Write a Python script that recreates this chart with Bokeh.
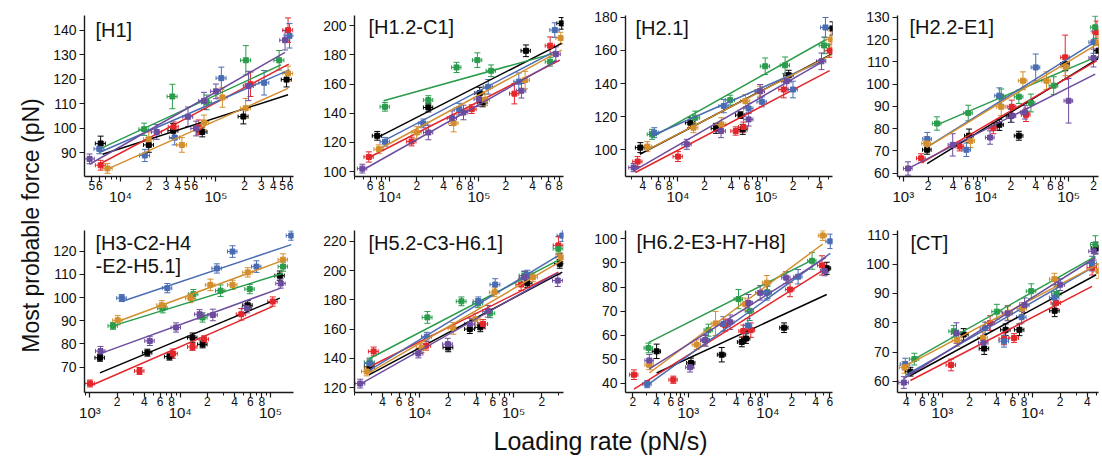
import math
from bokeh.plotting import figure
from bokeh.models import (ColumnDataSource, Whisker, TeeHead, FixedTicker, LogAxis,
                          LinearAxis, Range1d, Label)
from bokeh.layouts import row, column
from bokeh.embed import file_html
from bokeh.resources import INLINE
from bokeh.core.properties import value

FONT = "Liberation Sans"
SERIES = ["black", "red", "green", "blue", "orange", "purple"]
COLORS = {"black": "#000000", "red": "#e3262b", "green": "#2a9c4c",
          "blue": "#4a6cb3", "orange": "#d38f2e", "purple": "#6c4c9e"}

PANEL_TITLES = [["[H1]"], ["[H1.2-C1]"], ["[H2.1]"], ["[H2.2-E1]"],
                ["[H3-C2-H4", "-E2-H5.1]"], ["[H5.2-C3-H6.1]"], ["[H6.2-E3-H7-H8]"], ["[CT]"]]
Y_LABEL = "Most probable force (pN)"
X_LABEL = "Loading rate (pN/s)"

# ---------------- data: loading rate (pN/s), force (pN), force error, fit ends -------------
h1_rate = {"black": [6.2e3, 1.98e4, 3.57e4, 7.2e4, 1.94e5, 5.5e5],
           "red": [6.2e3, 3.6e4, 6.6e4, 2.3e5, 5.7e5],
           "green": [1.77e4, 3.5e4, 8e4, 2.06e5, 4.6e5],
           "blue": [6e3, 1.8e4, 3.7e4, 1.14e5, 3.2e5, 5.9e5],
           "orange": [7.3e3, 1.98e4, 4.4e4, 7.5e4, 1.17e5, 2.05e5, 5.7e5],
           "purple": [4.75e3, 2.4e4, 5.1e4, 6.2e4, 7.5e4, 1e5, 2.2e5, 5.3e5]}
h1_force = {"black": [93.7, 93.1, 98.9, 98.4, 104.7, 119.8],
            "red": [84.8, 100.5, 100.3, 117.9, 140],
            "green": [99.5, 112.9, 110.5, 127.7, 127.7],
            "blue": [91.5, 88.8, 96.1, 120.4, 118.5, 137.7],
            "orange": [83.5, 95.4, 93.1, 102.3, 112.5, 108.1, 122.3],
            "purple": [87.4, 98.4, 104.6, 99.8, 111.1, 115, 117.2, 135.9]}
h1_err = {"black": [3, 3, 3, 2, 3, 3], "red": [2, 2, 3, 5, 5], "green": [2.5, 5, 3, 6, 4],
          "blue": [2, 2.5, 3, 4.5, 5, 5], "orange": [2, 3, 3, 3, 4, 4, 3],
          "purple": [2, 3, 4, 3, 3.5, 3, 6, 4]}
h1_fit = {"black": [6.5e3, 89.3, 5.7e5, 113.6], "red": [6e3, 85.2, 5.8e5, 126.1],
          "green": [6e3, 91.4, 4.8e5, 125.8], "blue": [6e3, 90, 5.9e5, 123.8],
          "orange": [7.3e3, 83.2, 5.7e5, 116.2], "purple": [4.75e3, 85.2, 5.3e5, 130.9]}

h12_rate = {"black": [7.2e3, 2.7e4, 1.02e5, 1.1e5, 3.37e5, 8.5e5],
            "red": [5.8e3, 1.75e4, 8.3e4, 2.5e5, 6.3e5],
            "green": [8.8e3, 2.7e4, 5.6e4, 9.6e4, 1.37e5, 6.3e5],
            "blue": [8.8e3, 2.37e4, 6e4, 1.27e5, 2.8e5, 7.1e5],
            "orange": [7.5e3, 2e4, 5.2e4, 1.17e5, 3.3e5, 8.3e5],
            "purple": [4.9e3, 2.7e4, 5e4, 6.7e4, 1e5, 3e5, 7.3e5]}
h12_force = {"black": [124.5, 143.9, 153.8, 147.4, 182.8, 201.6],
             "red": [110, 120.6, 142.8, 153.4, 186.3],
             "green": [144.4, 149, 171.4, 176.4, 169.1, 175.3],
             "blue": [120.4, 133, 142.8, 158.1, 161.6, 197],
             "orange": [115.3, 126.8, 133.2, 149.2, 162.7, 191.5],
             "purple": [102, 126.8, 136.6, 140.5, 149.7, 155.4, 180.5]}
h12_err = {"black": [3, 3, 4, 3, 4, 4], "red": [3.5, 3, 3, 7, 6], "green": [3, 3, 3.5, 5, 4, 3],
           "blue": [3, 3, 4, 5, 6, 5], "orange": [3, 4, 6, 4, 6, 4],
           "purple": [3, 5, 5, 5, 5, 5, 5]}
h12_fit = {"black": [7.2e3, 123.3, 8.5e5, 187.9], "red": [5.8e3, 109.6, 8.1e5, 176.4],
           "green": [8.5e3, 148.5, 6.5e5, 180.5], "blue": [8.8e3, 121.5, 7.3e5, 182.8],
           "orange": [7.2e3, 114.6, 8.5e5, 183.3], "purple": [4.9e3, 100.9, 7.5e5, 176]}

h21_rate = {"black": [3.75e3, 1.38e4, 2.7e4, 5.1e4, 5.4e4, 1.79e5, 5.6e5],
            "red": [3.5e3, 1e4, 4.5e4, 5.5e4, 1.57e5, 5.2e5],
            "green": [5.1e3, 1.57e4, 3.9e4, 9.7e4, 1.63e5, 4.5e5],
            "blue": [5.4e3, 3.3e4, 6.3e4, 8.9e4, 2e5, 4.66e5],
            "orange": [4.5e3, 1.5e4, 3.1e4, 5.8e4, 8.5e4, 5.4e5],
            "purple": [3.15e3, 1.26e4, 3.07e4, 6.3e4, 8.5e4, 1.7e5, 4.2e5]}
h21_force = {"black": [101.4, 116.4, 113, 121, 112.4, 145, 173.2],
             "red": [93, 96, 111.4, 113.8, 136.4, 159.8],
             "green": [109.4, 119.4, 130, 150.4, 151, 163],
             "blue": [110.4, 126.4, 125, 129, 136.4, 173.8],
             "orange": [102, 113.4, 115.4, 129.4, 135.4, 166.6],
             "purple": [89.4, 103.4, 111.4, 118.4, 135.4, 141.4, 153.4]}
h21_err = {"black": [3, 3, 3, 2, 3, 3, 4], "red": [3, 3, 2.5, 3, 5, 4], "green": [3, 4, 3, 5, 5, 5],
           "blue": [3, 4, 3, 3, 5, 6], "orange": [3, 3, 4, 4, 3, 5],
           "purple": [2.5, 3, 4, 4, 4, 5, 5]}
h21_fit = {"black": [3.7e3, 97.4, 5.6e5, 158], "red": [3.3e3, 86.4, 5.2e5, 147.8],
           "green": [5e3, 107.4, 4.7e5, 166.4], "blue": [5e3, 108.4, 4.7e5, 154.4],
           "orange": [4.3e3, 99.4, 5.5e5, 157.4], "purple": [3.15e3, 87.4, 4.4e5, 153.4]}

h22_rate = {"black": [1.94e3, 6.25e3, 1.45e4, 2e4, 2.5e4, 9.1e4, 2.3e5],
            "red": [1.64e3, 4.8e3, 1.23e4, 2.05e4, 3.05e4, 9.1e4, 2.2e5],
            "green": [2.55e3, 6.1e3, 1.53e4, 2.5e4, 3.5e4, 6.6e4, 2.1e5],
            "blue": [1.95e3, 5.8e3, 1.45e4, 4e4, 2e5],
            "orange": [1.9e3, 6.5e3, 1.53e4, 2.8e4, 5.4e4, 9.2e4, 2.3e5],
            "purple": [1.14e3, 3.96e3, 1.12e4, 2.05e4, 2.97e4, 1e5, 2e5]}
h22_force = {"black": [70.5, 76.8, 81.7, 85.8, 76.8, 109, 115],
             "red": [66.7, 72, 80.2, 89.8, 86.2, 112, 123.3],
             "green": [82.3, 87, 94.3, 94.3, 91.5, 99.3, 125.5],
             "blue": [75.3, 70.5, 94.8, 107.5, 118.8],
             "orange": [73.3, 74.5, 89.8, 101.5, 101.5, 107.8, 118.5],
             "purple": [62.1, 72.7, 76, 85.8, 87.3, 92.5, 111.7]}
h22_err = {"black": [2, 3, 2.5, 3, 2, 3, 3], "red": [2, 2, 2.5, 3, 3, 10, 5],
           "green": [3, 3.5, 3.5, 3, 4, 4, 5], "blue": [3, 3, 3.5, 6, 5],
           "orange": [3, 3, 4, 4, 4, 4, 4], "purple": [3, 5, 3, 3, 3, 10, 4]}
h22_fit = {"black": [1.94e3, 64.3, 2.3e5, 111.5], "red": [1.7e3, 64.8, 2.2e5, 110.5],
           "green": [2.55e3, 81.7, 2.1e5, 112], "blue": [1.95e3, 71.8, 2.2e5, 119.5],
           "orange": [1.9e3, 71.5, 2.3e5, 118.3], "purple": [1.1e3, 61.8, 2.1e5, 104.5]}

h3_rate = {"black": [1.29e3, 4.33e3, 7.6e3, 1.37e4, 1.77e4, 5.6e4, 1.27e5],
           "red": [1e3, 3.54e3, 8.3e3, 1.37e4, 1.84e4, 4.75e4, 1.06e5],
           "green": [1.8e3, 6.4e3, 1.4e4, 1.77e4, 2.8e4, 5.9e4, 1.38e5],
           "blue": [2.25e3, 7.2e3, 2.55e4, 3.8e4, 7e4, 1.7e5],
           "orange": [2.03e3, 6.25e3, 1.3e4, 2.16e4, 3.8e4, 5.6e4, 1.38e5],
           "purple": [1.31e3, 4.6e3, 9e3, 1.64e4, 2.3e4, 5.5e4, 1.3e5]}
h3_force = {"black": [74, 76.2, 74.5, 82.7, 79.8, 96.7, 109.5],
            "red": [62.9, 68.3, 75.8, 78.7, 82, 92.8, 98.3],
            "green": [87.8, 95.4, 101.5, 91.4, 103, 103.7, 113.4],
            "blue": [99.8, 104.1, 112.6, 119.9, 113.4, 126.8],
            "orange": [90.2, 96.7, 99.8, 105.5, 105.5, 110.9, 116.4],
            "purple": [76.9, 81.3, 87.1, 92.8, 92.5, 95.4, 106.1]}
h3_err = {"black": [1.5, 1.5, 1.5, 2, 1.5, 2, 2], "red": [1.5, 1.5, 2, 1.5, 1.5, 2.5, 2],
          "green": [1.5, 2, 2, 2, 2.5, 2, 2], "blue": [1.5, 2, 2, 2.5, 2.5, 2],
          "orange": [2, 2, 2, 2.5, 2, 2, 2.5], "purple": [2, 2, 2, 2, 2.5, 2, 2]}
h3_fit = {"black": [1.29e3, 67.5, 1.27e5, 99.8], "red": [1e3, 61.8, 1.06e5, 96.2],
          "green": [1.8e3, 87.8, 1.38e5, 110.5], "blue": [2.25e3, 98.3, 1.7e5, 122.9],
          "orange": [2.03e3, 89.7, 1.4e5, 116.2], "purple": [1.3e3, 75.8, 1.3e5, 104.1]}

h5_rate = {"black": [2.9e3, 2e4, 3.4e4, 4.4e4, 1.4e5, 3.1e5],
           "red": [3.2e3, 1.16e4, 4.7e4, 1.2e5, 3e5],
           "green": [2.9e3, 1.2e4, 2.77e4, 4.15e4, 5.6e4, 1.3e5, 3e5],
           "blue": [2.9e3, 1.18e4, 4.2e4, 6.35e4, 1.4e5, 3.3e5],
           "orange": [2.7e3, 1.04e4, 2.27e4, 3.9e4, 6.25e4, 1.6e5, 3.2e5],
           "purple": [2.3e3, 9.6e3, 1.98e4, 3.4e4, 5.3e4, 1.3e5, 2.95e5]}
h5_force = {"black": [134.2, 147.5, 160, 161.2, 191.4, 204.7],
            "red": [144.7, 148.6, 163.5, 190.5, 217.3],
            "green": [137.2, 168, 179, 177.7, 170.8, 196.7, 215],
            "blue": [136.5, 154.8, 179, 190.5, 197.3, 224],
            "orange": [131, 147, 160.5, 166.9, 185.2, 195.5, 209.2],
            "purple": [122.7, 143.3, 149.7, 163.5, 172.2, 195.5, 193.2]}
h5_err = {"black": [3, 3, 3, 3, 3, 3], "red": [3, 3, 3, 4, 6], "green": [3, 4, 3, 3, 3, 3, 3],
          "blue": [3, 3, 3, 4, 3, 4], "orange": [3, 3, 4, 4, 3, 3, 3],
          "purple": [3, 3, 4, 4, 4, 4, 4]}
h5_fit = {"black": [2.85e3, 128.7, 3.3e5, 199], "red": [2.9e3, 134.2, 3e5, 198.9],
          "green": [2.9e3, 139.9, 3.3e5, 208.6], "blue": [2.9e3, 131.9, 3.3e5, 212],
          "orange": [2.7e3, 129.2, 3.3e5, 207], "purple": [2.3e3, 122.3, 2.95e5, 198.5]}

h6_rate = {"black": [399, 1.08e3, 2.63e3, 4.7e3, 5.3e3, 1.6e4, 5.5e4],
           "red": [207, 647, 2.9e3, 4.9e3, 6.1e3, 1.9e4, 4.8e4],
           "green": [315, 1.79e3, 4.27e3, 5.9e3, 9.9e3, 3.6e4],
           "blue": [304, 1.65e3, 2.76e3, 5.6e3, 9.7e3, 2.4e4, 6.1e4],
           "orange": [323, 1.27e3, 2.2e3, 5.2e3, 9.7e3, 4.9e4],
           "purple": [323, 1.05e3, 1.62e3, 3.35e3, 5.7e3, 8e3, 1.7e4, 5.2e4]}
h6_force = {"black": [53.3, 48.5, 51.9, 57.2, 58.6, 63.1, 87.8],
            "red": [43.6, 41.5, 64.2, 61.7, 62.1, 79, 89],
            "green": [54.7, 62.1, 75, 70.1, 77.8, 90.9],
            "blue": [39.7, 57.9, 64.7, 64, 77.6, 84.3, 99],
            "orange": [47.7, 56.1, 64.9, 72.9, 81.8, 101.4],
            "purple": [49.5, 46.7, 57.9, 65.4, 73.4, 77.6, 83.9, 86.7]}
h6_err = {"black": [3, 2, 3, 2, 2, 2, 2.5], "red": [2, 1.5, 2.5, 2.5, 3, 3, 4],
          "green": [2, 2.5, 4, 4, 2.5, 3.5], "blue": [1.5, 2.5, 3, 3, 3, 3, 3],
          "orange": [2, 2, 5, 2.5, 3, 2], "purple": [2.5, 2, 2, 3, 3.5, 3, 2.5, 2]}
h6_fit = {"black": [399, 44.3, 5.5e4, 76.9], "red": [207, 37.6, 4.8e4, 86.7],
          "green": [315, 56.9, 3.6e4, 91.2], "blue": [304, 39.3, 6.1e4, 94],
          "orange": [323, 44.3, 4.9e4, 97.9], "purple": [323, 46, 5.4e4, 92.3]}

ct_rate = {"black": [444, 1.72e3, 2.9e3, 5e3, 7.1e3, 1.74e4, 5e4],
           "red": [1.25e3, 3.37e3, 4.8e3, 6.2e3, 1.8e4, 4.5e4],
           "green": [491, 1.34e3, 4e3, 9.6e3, 1.83e4, 4.9e4],
           "blue": [390, 2.97e3, 4.8e3, 7.5e3, 1.73e4, 4.5e4],
           "orange": [382, 1.46e3, 2.8e3, 5.3e3, 7.6e3, 1.73e4, 5.3e4],
           "purple": [376, 1.43e3, 2.85e3, 5.25e3, 8.1e3, 2e4, 4.7e4]}
ct_force = {"black": [63.3, 76, 71.2, 77.6, 77.6, 84.1, 105.5],
            "red": [65.6, 79.9, 74.5, 74.8, 86.8, 98.8],
            "green": [67.6, 77.1, 83.8, 90.8, 89.9, 106.7],
            "blue": [65.9, 78.2, 73.7, 81.9, 88.6, 100.2],
            "orange": [64.8, 74, 74.8, 83.4, 84.9, 94.9, 97.7],
            "purple": [59.6, 76.5, 73.2, 83.2, 86, 93, 104.4]}
ct_err = {"black": [1.5, 2, 2, 2, 2, 2, 2], "red": [2, 2.5, 2, 1.5, 2, 2.5],
          "green": [2, 2, 2.5, 2.5, 2.5, 3], "blue": [2, 2, 2, 2, 2, 2.5],
          "orange": [2, 2, 2, 2.5, 2, 2, 2.5], "purple": [2, 3.5, 2.5, 2.5, 2.5, 2, 3]}
ct_fit = {"black": [444, 62, 5e4, 96.4], "red": [444, 60.3, 4.5e4, 92.4],
          "green": [491, 67.6, 4.9e4, 102.7], "blue": [390, 62, 4.9e4, 99.4],
          "orange": [382, 65.1, 5.3e4, 100], "purple": [376, 60.9, 4.9e4, 102.2]}

# relative half-width of the loading-rate error bars
X_ERR_FRAC = 0.12

# ---------------- axis set-up per panel ----------------
PANELS = [
    dict(rate=h1_rate, force=h1_force, err=h1_err, fit=h1_fit, xr=(4.2e3, 6.5e5), yr=(80.2, 146),
         yt=[90, 100, 110, 120, 130, 140], lab={3: [5, 6], 4: [2, 3, 4, 5, 6], 5: [2, 3, 4, 5, 6]}),
    dict(rate=h12_rate, force=h12_force, err=h12_err, fit=h12_fit, xr=(4e3, 8.9e5), yr=(96.6, 207),
         yt=[100, 120, 140, 160, 180, 200], lab={3: [6, 8], 4: [2, 4, 6, 8], 5: [2, 4, 6, 8]}),
    dict(rate=h21_rate, force=h21_force, err=h21_err, fit=h21_fit, xr=(2.55e3, 5.6e5), yr=(84, 181),
         yt=[100, 120, 140, 160, 180], lab={3: [4, 6, 8], 4: [2, 4, 6, 8], 5: [2, 4]}),
    dict(rate=h22_rate, force=h22_force, err=h22_err, fit=h22_fit, xr=(850, 2.3e5), yr=(58.5, 130.8),
         yt=[60, 70, 80, 90, 100, 110, 120, 130], lab={3: [2, 4, 6, 8], 4: [2, 4, 6, 8], 5: [2]}),
    dict(rate=h3_rate, force=h3_force, err=h3_err, fit=h3_fit, xr=(870, 1.8e5), yr=(59, 129),
         yt=[70, 80, 90, 100, 110, 120], lab={3: [2, 4, 6, 8], 4: [2, 4, 6, 8]}),
    dict(rate=h5_rate, force=h5_force, err=h5_err, fit=h5_fit, xr=(2e3, 3.4e5), yr=(116.6, 227.5),
         yt=[120, 140, 160, 180, 200, 220], lab={3: [4, 6, 8], 4: [2, 4, 6, 8], 5: [2]}),
    dict(rate=h6_rate, force=h6_force, err=h6_err, fit=h6_fit, xr=(162, 6.5e4), yr=(36.2, 103.5),
         yt=[40, 50, 60, 70, 80, 90, 100], lab={2: [2, 4, 6, 8], 3: [2, 4, 6, 8], 4: [2, 4, 6]}),
    dict(rate=ct_rate, force=ct_force, err=ct_err, fit=ct_fit, xr=(320, 5.3e4), yr=(56.2, 111.5),
         yt=[60, 70, 80, 90, 100, 110], lab={2: [4, 6, 8], 3: [2, 4, 6, 8], 4: [2, 4]}),
]

SUP = {2: "\u00b2", 3: "\u00b3", 4: "\u2074", 5: "\u2075", 6: "\u2076"}
AX_COLOR = "#1a1a1a"

# layout geometry: (border_left, frame_width, border_right) per column; (top, frame_h, bottom) per row
COLS = [(34, 209, 7), (54, 209, 7), (55, 207, 8), (57, 201, 2)]
ROWS = [(15, 161, 36), (18, 162, 36)]
TITLE_OFF = [(11, 3), (14, 0), (10, 1), (12, 0), (11, 1), (14, 1), (11, 0), (13, 1)]


def make_panel(i):
    cfg = PANELS[i]
    bl, fw, br = COLS[i % 4]
    bt, fh, bb = ROWS[i // 4]
    x0, x1 = cfg["xr"]
    y0, y1 = cfg["yr"]
    p = figure(x_axis_type="log", x_range=Range1d(x0, x1), y_range=Range1d(y0, y1),
               frame_width=fw, frame_height=fh, min_border_left=bl, min_border_right=br,
               min_border_top=bt, min_border_bottom=bb, x_axis_location=None,
               y_axis_location=None, toolbar_location=None, output_backend="svg")
    p.grid.visible = False
    p.outline_line_color = None
    p.background_fill_color = None
    p.border_fill_color = None

    # ---- x ticks
    d0, d1 = math.floor(math.log10(x0)), math.ceil(math.log10(x1))
    decades, labeled, minors, overrides = [], [], [], {}
    for d in range(d0, d1 + 1):
        dv = float(10 ** d)
        if x0 <= dv <= x1:
            decades.append(dv)
            overrides[dv] = ""
        for k in range(2, 10):
            v = float(k * 10 ** d)
            if not (x0 <= v <= x1):
                continue
            if k in cfg["lab"].get(d, []):
                labeled.append(v)
                overrides[v] = str(k)
            else:
                minors.append(v)
    ax1 = LogAxis(ticker=FixedTicker(ticks=decades + labeled, minor_ticks=minors),
                  major_label_overrides=overrides, major_tick_out=5, major_tick_in=0,
                  minor_tick_out=3, minor_tick_in=0, major_label_standoff=-1,
                  axis_line_color=AX_COLOR, axis_line_width=1.4,
                  major_tick_line_color=AX_COLOR, minor_tick_line_color=AX_COLOR,
                  major_tick_line_width=1.2, minor_tick_line_width=1,
                  major_label_text_font=FONT, major_label_text_font_size="12px",
                  major_label_text_color="#111111")
    ax2 = LogAxis(ticker=FixedTicker(ticks=decades, minor_ticks=[]),
                  major_label_overrides={dv: "10" + SUP[int(round(math.log10(dv)))] for dv in decades},
                  major_tick_out=0, major_tick_in=0, major_tick_line_color=None,
                  minor_tick_line_color=None, axis_line_color=None, major_label_standoff=-5,
                  major_label_text_font=FONT, major_label_text_font_size="15px",
                  major_label_text_color="#111111")
    p.add_layout(ax1, "below")
    p.add_layout(ax2, "below")

    ay = LinearAxis(ticker=FixedTicker(ticks=cfg["yt"], minor_ticks=[]),
                    major_tick_out=5, major_tick_in=0, minor_tick_line_color=None,
                    axis_line_color=AX_COLOR, axis_line_width=1.4,
                    major_tick_line_color=AX_COLOR, major_tick_line_width=1.2,
                    major_label_standoff=3, major_label_text_font=FONT,
                    major_label_text_font_size="14px", major_label_text_color="#111111")
    p.add_layout(ay, "left")

    # ---- series
    for s in SERIES:
        c = COLORS[s]
        xs = cfg["rate"][s]
        fs = cfg["force"][s]
        es = cfg["err"][s]
        src = ColumnDataSource(dict(
            x=xs, f=fs,
            flo=[f - e for f, e in zip(fs, es)], fhi=[f + e for f, e in zip(fs, es)],
            xlo=[x * (1 - X_ERR_FRAC) for x in xs], xhi=[x * (1 + X_ERR_FRAC) for x in xs]))
        fx0, ff0, fx1, ff1 = cfg["fit"][s]
        p.line(x=[fx0, fx1], y=[ff0, ff1], line_color=c, line_width=1.5)
        p.add_layout(Whisker(source=src, base="x", lower="flo", upper="fhi", dimension="height",
                             line_color=c, line_width=1,
                             upper_head=TeeHead(size=6, line_color=c, line_width=1),
                             lower_head=TeeHead(size=6, line_color=c, line_width=1)))
        p.add_layout(Whisker(source=src, base="f", lower="xlo", upper="xhi", dimension="width",
                             line_color=c, line_width=1,
                             upper_head=TeeHead(size=4, line_color=c, line_width=1),
                             lower_head=TeeHead(size=4, line_color=c, line_width=1)))
        p.scatter("x", "f", source=src, marker="square", size=5, fill_color=c, line_color=c)

    # ---- title inside frame
    offx, offy = TITLE_OFF[i]
    lx0, lx1 = math.log10(x0), math.log10(x1)
    tx = 10 ** (lx0 + offx / fw * (lx1 - lx0))
    for j, t in enumerate(PANEL_TITLES[i]):
        ty = y1 - (offy + 23 * j) / fh * (y1 - y0)
        p.add_layout(Label(x=tx, y=ty, text=t, text_font=FONT, text_font_size="20px",
                           text_baseline="top", text_align="left", text_color="#111111"))
    return p


panels = [make_panel(i) for i in range(8)]

TOP_H = ROWS[0][0] + ROWS[0][1] + ROWS[0][2]
BOT_H = ROWS[1][0] + ROWS[1][1] + ROWS[1][2]
GRID_W = sum(a + b + c for a, b, c in COLS)
YL_W = 50
XL_H = 30


def blank(w, h):
    f = figure(width=w, height=h, x_range=Range1d(0, w), y_range=Range1d(0, h),
               min_border=0, toolbar_location=None, output_backend="svg",
               x_axis_location=None, y_axis_location=None)
    f.grid.visible = False
    f.outline_line_color = None
    return f


ylab = blank(YL_W, TOP_H + BOT_H)
ylab.text(x=[30], y=[TOP_H + BOT_H - 225], text=[Y_LABEL], angle=math.pi / 2,
          text_align="center", text_baseline="middle", text_font=value(FONT),
          text_font_size="23px", text_color="#111111")

xlab = blank(YL_W + GRID_W, XL_H)
xlab.text(x=[600], y=[XL_H - (440 - TOP_H - BOT_H)], text=[X_LABEL], text_align="center",
          text_baseline="middle", text_font=value(FONT), text_font_size="25px",
          text_color="#111111")

grid = column(row(*panels[:4], spacing=0), row(*panels[4:], spacing=0), spacing=0)
layout = column(row(ylab, grid, spacing=0), xlab, spacing=0)

open("out.html", "w").write(file_html(layout, INLINE))
